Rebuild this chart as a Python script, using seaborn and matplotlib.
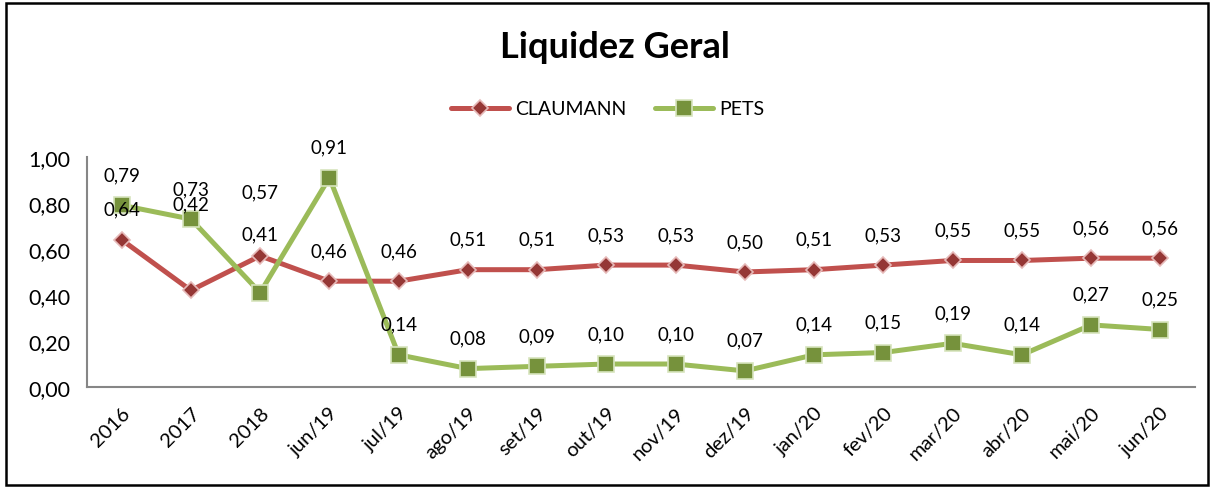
import matplotlib
matplotlib.use("Agg")
import matplotlib.pyplot as plt
import matplotlib.patches as mpatches
import pandas as pd
import seaborn as sns

# ── Data ──────────────────────────────────────────────────────────────────────
periods = ["2016", "2017", "2018", "jun/19", "jul/19", "ago/19", "set/19", "out/19",
           "nov/19", "dez/19", "jan/20", "fev/20", "mar/20", "abr/20", "mai/20", "jun/20"]
claumann = [0.64, 0.42, 0.57, 0.46, 0.46, 0.51, 0.51, 0.53,
            0.53, 0.50, 0.51, 0.53, 0.55, 0.55, 0.56, 0.56]
pets = [0.79, 0.73, 0.41, 0.91, 0.14, 0.08, 0.09, 0.10,
        0.10, 0.07, 0.14, 0.15, 0.19, 0.14, 0.27, 0.25]

# label offsets (points) – a few labels were dragged by hand in the original
LABEL_DY = {"CLAUMANN": {1: 62, 2: 46}, "PETS": {2: 42}}
DEFAULT_DY = 22

STYLE = {
    "CLAUMANN": dict(line="#C0504D", face="#953735", edge="#E6B9B8", marker="D", ms=8),
    "PETS":     dict(line="#9BBB59", face="#76923C", edge="#D7E4BD", marker="s", ms=11.5),
}

df = pd.DataFrame({"periodo": periods * 2,
                   "valor": claumann + pets,
                   "serie": ["CLAUMANN"] * len(periods) + ["PETS"] * len(periods)})
df["x"] = df.groupby("serie").cumcount()

sns.set_style("white")
plt.rcParams["font.family"] = ["Lato", "DejaVu Sans"]

fig = plt.figure(figsize=(12.15, 4.89), dpi=100)
ax = fig.add_axes([0.0716, 0.2065, 0.912, 0.4705])

for name, sub in df.groupby("serie", sort=False):
    st = STYLE[name]
    sns.lineplot(data=sub, x="x", y="valor", ax=ax, color=st["line"], lw=3.6,
                 marker=st["marker"], markersize=st["ms"], markerfacecolor=st["face"],
                 markeredgecolor=st["edge"], markeredgewidth=1.2, label=name, zorder=3)
    for i, v in zip(sub["x"], sub["valor"]):
        dy = LABEL_DY[name].get(i, DEFAULT_DY)
        ax.annotate(f"{v:.2f}".replace(".", ","), (i, v), xytext=(0, dy),
                    textcoords="offset points", ha="center", va="center",
                    fontsize=13.5, color="black", clip_on=False, zorder=4)

ax.set_xlim(-0.5, len(periods) - 0.5)
ax.set_ylim(0, 1)
ax.set_yticks([0, 0.2, 0.4, 0.6, 0.8, 1.0])
ax.set_yticklabels([f"{t:.2f}".replace(".", ",") for t in ax.get_yticks()],
                   fontsize=15.5, color="black")
ax.set_xticks(range(len(periods)))
ax.set_xticklabels(periods, rotation=45, ha="right", rotation_mode="anchor",
                   fontsize=14.5, color="black")
ax.set_xticks([i - 0.5 for i in range(len(periods) + 1)], minor=True)
ax.tick_params(axis="x", which="major", length=0, pad=12)
ax.tick_params(axis="x", which="minor", length=6, color="#868686", width=1.5)
ax.tick_params(axis="y", length=6, color="#868686", width=1.5, pad=6)
ax.set_xlabel(""); ax.set_ylabel("")
for s in ["top", "right"]:
    ax.spines[s].set_visible(False)
for s in ["left", "bottom"]:
    ax.spines[s].set_color("#868686")
    ax.spines[s].set_linewidth(1.5)
ax.grid(False)

ax.legend_.remove()
handles, labels = ax.get_legend_handles_labels()
fig.legend(handles, labels, loc="center", bbox_to_anchor=(0.5, 1 - 110 / 489),
           ncol=2, frameon=False, fontsize=14, handlelength=3, columnspacing=1.5,
           handletextpad=0.3, labelcolor="black")

fig.text(0.506, 1 - 48 / 489, "Liquidez Geral", ha="center", va="center",
         fontsize=26, fontweight="bold", color="black")

fig.patches.append(mpatches.Rectangle((6 / 1215, 3 / 489), 1202 / 1215, 482 / 489,
                                      transform=fig.transFigure, fill=False,
                                      edgecolor="black", lw=1.8))

fig.savefig("out.png", dpi=100)
